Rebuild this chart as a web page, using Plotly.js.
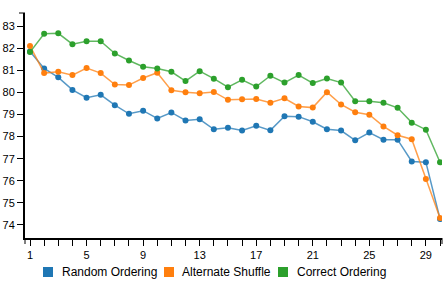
<!DOCTYPE html>
<html>
<head>
<meta charset="utf-8">
<script src="https://cdn.plot.ly/plotly-3.0.1.min.js"></script>
<style>
  html, body { margin: 0; padding: 0; background: #fff; }
  #chart { width: 448px; height: 286px; }
</style>
</head>
<body>
<div id="chart"></div>
<script>
// Step index along the x axis
const steps = [1,2,3,4,5,6,7,8,9,10,11,12,13,14,15,16,17,18,19,20,21,22,23,24,25,26,27,28,29,30];

// Series values per step
const randomOrdering = [81.85,81.08,80.68,80.11,79.76,79.89,79.42,79.03,79.17,78.82,79.09,78.73,78.78,78.33,78.4,78.27,78.49,78.28,78.92,78.9,78.67,78.33,78.27,77.83,78.18,77.86,77.86,76.87,76.84,74.27];
const alternateShuffle = [82.1,80.87,80.93,80.78,81.1,80.87,80.35,80.33,80.65,80.89,80.09,80.0,79.96,80.02,79.66,79.69,79.7,79.53,79.73,79.36,79.31,80.01,79.45,79.1,78.99,78.46,78.06,77.88,76.08,74.31];
const correctOrdering = [81.82,82.65,82.67,82.18,82.31,82.31,81.76,81.44,81.16,81.08,80.93,80.51,80.96,80.62,80.23,80.57,80.26,80.75,80.44,80.78,80.42,80.63,80.44,79.6,79.6,79.53,79.3,78.63,78.31,76.84];

const seriesNames = ["Random Ordering", "Alternate Shuffle", "Correct Ordering"];
const seriesValues = [randomOrdering, alternateShuffle, correctOrdering];
const seriesColors = ["#1f77b4", "#ff7f0e", "#2ca02c"];
const seriesLineColors = ["rgba(31,119,180,0.75)", "rgba(255,127,14,0.75)", "rgba(44,160,44,0.75)"];

// X tick labels every fourth step, unlabeled ticks in between
const xTickVals = steps;
const xTickText = steps.map(s => ((s - 1) % 4 === 0 ? String(s) : ""));
const yTickVals = [74,75,76,77,78,79,80,81,82,83];

const traces = seriesNames.map((name, i) => ({
  type: "scatter",
  mode: "lines+markers",
  name: name,
  x: steps,
  y: seriesValues[i],
  line: { color: seriesLineColors[i], width: 1.5 },
  marker: { color: seriesColors[i], size: 6, symbol: "circle" },
  showlegend: false,
  hoverinfo: "x+y+name"
}));

// Plot area geometry in pixels (used to place the legend below the axis)
const W = 448, H = 286;
const M = { l: 25, r: 6, t: 13, b: 48 };
const pw = W - M.l - M.r, ph = H - M.t - M.b;
const px = x => (x - M.l) / pw;
const py = y => (H - M.b - y) / ph;

const legendSquareX = [43, 164, 278];
const legendTextX = [60, 180, 295];
const shapes = [];
const annotations = [];
seriesNames.forEach((name, i) => {
  shapes.push({
    type: "rect", xref: "paper", yref: "paper",
    x0: px(legendSquareX[i]), x1: px(legendSquareX[i] + 10),
    y0: py(277), y1: py(267),
    fillcolor: seriesColors[i], line: { width: 0 }
  });
  annotations.push({
    xref: "paper", yref: "paper",
    x: px(legendTextX[i]), y: py(272),
    xanchor: "left", yanchor: "middle",
    text: name, showarrow: false,
    font: { family: "Liberation Sans, Arial, sans-serif", size: 12, color: "#000" }
  });
});

// Outer ticks at the ends of both axis lines
const tickLenPx = 6;
shapes.push(
  { type: "line", xref: "paper", yref: "paper", x0: 0, x1: -tickLenPx / pw, y0: 1, y1: 1, line: { color: "#000", width: 1 } },
  { type: "line", xref: "paper", yref: "paper", x0: 0, x1: 0, y0: 0, y1: -tickLenPx / ph, line: { color: "#000", width: 1 } },
  { type: "line", xref: "paper", yref: "paper", x0: 1, x1: 1, y0: 0, y1: -tickLenPx / ph, line: { color: "#000", width: 1 } }
);

const tickFont = { family: "Liberation Sans, Arial, sans-serif", size: 11, color: "#000" };

const layout = {
  width: W, height: H,
  margin: M,
  paper_bgcolor: "#fff",
  plot_bgcolor: "#fff",
  showlegend: false,
  xaxis: {
    range: [0.646, 30.14],
    tickmode: "array", tickvals: xTickVals, ticktext: xTickText,
    ticks: "outside", ticklen: tickLenPx, tickwidth: 1, tickcolor: "#000",
    showline: true, linecolor: "#000", linewidth: 1.5,
    showgrid: false, zeroline: false,
    tickfont: tickFont
  },
  yaxis: {
    range: [73.41, 83.59],
    tickmode: "array", tickvals: yTickVals,
    ticks: "outside", ticklen: tickLenPx, tickwidth: 1, tickcolor: "#000",
    showline: true, linecolor: "#000", linewidth: 2,
    showgrid: false, zeroline: false,
    tickfont: tickFont
  },
  shapes: shapes,
  annotations: annotations
};

Plotly.newPlot("chart", traces, layout, { displayModeBar: false, staticPlot: true });
</script>
</body>
</html>
